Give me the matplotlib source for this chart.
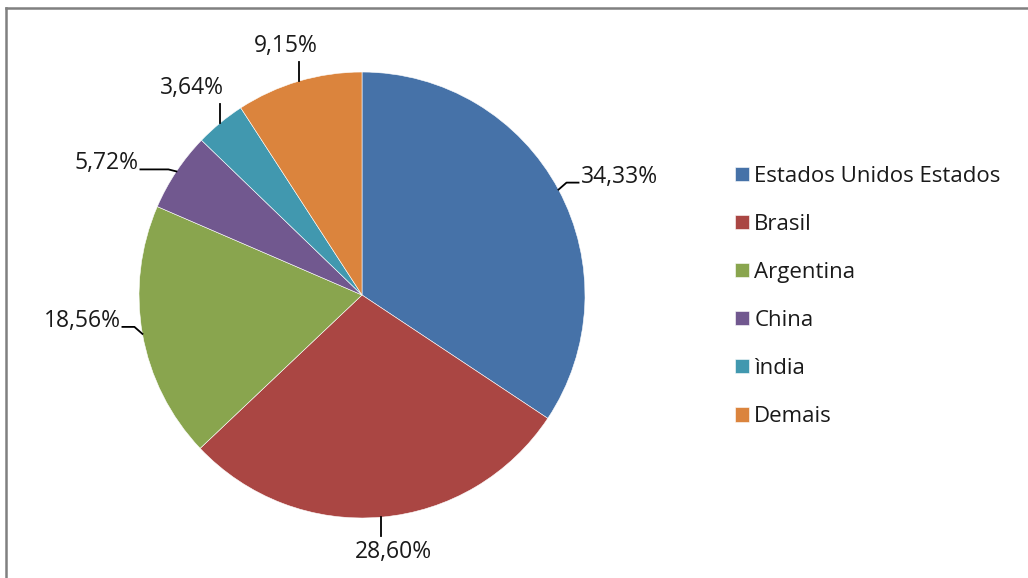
import numpy as np
import matplotlib
matplotlib.use("Agg")
import matplotlib.pyplot as plt
from matplotlib.lines import Line2D

plt.rcParams['font.family'] = ['Open Sans', 'DejaVu Sans']

# Data
paises = ["Estados Unidos Estados", "Brasil", "Argentina", "China", "ìndia", "Demais"]
percentuais = [34.33, 28.60, 18.56, 5.72, 3.64, 9.15]
rotulos = ["34,33%", "28,60%", "18,56%", "5,72%", "3,64%", "9,15%"]
cores = ["#4672A8", "#AA4643", "#89A54E", "#71588F", "#4198AF", "#DB843D"]


def main():
    fig = plt.figure(figsize=(10.28, 5.78), dpi=100)
    ax = fig.add_axes([0.1352, 0.1038, 0.4339, 0.7716])

    wedges, _ = ax.pie(
        percentuais,
        colors=cores,
        startangle=90,
        counterclock=False,
        radius=1.0,
        wedgeprops=dict(edgecolor="white", linewidth=0.4),
    )
    ax.set_xlim(-1, 1)
    ax.set_ylim(-1, 1)
    ax.set_aspect("equal")

    # Labels with leader lines (px -> data units, radius = 223 px)
    px = 1.0 / 223
    for w, txt in zip(wedges, rotulos):
        ang = np.deg2rad((w.theta1 + w.theta2) / 2)
        x, y = np.cos(ang), np.sin(ang)
        if abs(y) > 0.7:
            s = 1 if y > 0 else -1
            ax.plot([x, x], [y, y + s * 19 * px], color="black", lw=1.3, clip_on=False)
            ax.text(x + 45 * np.cos(ang) * px + 8 * px * (s < 0), y + s * 23 * px, txt,
                    ha="center", va="bottom" if s > 0 else "top",
                    fontsize=16.5, color="#1a1a1a", clip_on=False)
        else:
            s = 1 if x > 0 else -1
            # China label sits further out, with a longer, flatter leader
            far = abs(y) > 0.5
            ln = 36 if far else 20
            rise = 2 if far else 7
            ax.plot([x, x + s * 8 * px, x + s * ln * px],
                    [y, y + rise * px, y + rise * px],
                    color="black", lw=1.3, clip_on=False)
            ax.text(x + s * (ln + 2) * px, y + (rise + 6) * px, txt,
                    ha="left" if s > 0 else "right", va="center",
                    fontsize=16.5, color="#1a1a1a", clip_on=False)

    fig.legend(
        wedges, paises,
        loc="upper left",
        bbox_to_anchor=(0.6955, 0.748),
        frameon=False,
        fontsize=16,
        handlelength=0.62,
        handleheight=0.62,
        handletextpad=0.25,
        labelspacing=1.22,
        labelcolor="#1a1a1a",
    )

    # Chart frame (left and top edges visible)
    fig.add_artist(Line2D([0.006, 0.006], [0.0, 0.986], transform=fig.transFigure,
                          color="#808080", lw=1.8))
    fig.add_artist(Line2D([0.006, 1.0], [0.986, 0.986], transform=fig.transFigure,
                          color="#808080", lw=1.8))

    fig.savefig("out.png", dpi=100)


if __name__ == "__main__":
    main()
